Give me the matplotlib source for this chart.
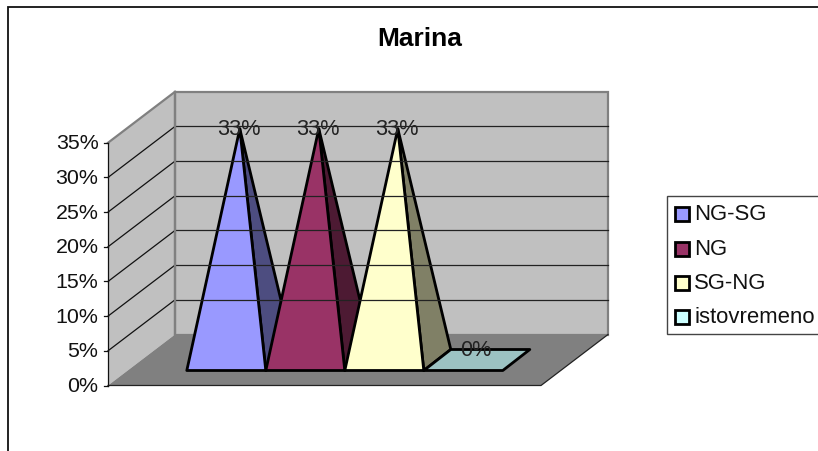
import matplotlib
matplotlib.use("Agg")
import matplotlib.pyplot as plt
from matplotlib.patches import Polygon, Rectangle

plt.rcParams['font.family'] = ['Liberation Sans', 'DejaVu Sans']

title = "Marina"
categories = ["NG-SG", "NG", "SG-NG", "istovremeno"]
values = [33, 33, 33, 0]
y_ticks = [0, 5, 10, 15, 20, 25, 30, 35]
front_colors = ["#9999FF", "#993366", "#FFFFCC", "#CCFFFF"]
side_colors = ["#4D4D80", "#4D1A33", "#808066", "#9CC3C3"]

# oblique box, in pixels
x0, y0 = 108, 385
box_w = 433
px_per_pct = 6.935
dx, dy = 67, -51
# pyramid bases
base_x0 = 186.8
base_w = 79
base_front = 370
base_dx, base_dy = 27, -21
apex_y0 = 357.1
wall = "#C0C0C0"
floor = "#808080"
lw1 = 0.9
lw2 = 2.0


def y_of(v):
    return y0 - v * px_per_pct


fig = plt.figure(figsize=(8.18, 4.52), dpi=100)
ax = fig.add_axes([0, 0, 1, 1])
ax.set_xlim(0, 818)
ax.set_ylim(450.5, -1.5)
ax.axis("off")

# outer chart frame, cut by the right and bottom edges
ax.plot([8, 8, 818], [452, 6, 6], color="#111111", lw=1.3, solid_joinstyle="miter")

top = y_of(y_ticks[-1])

# side wall, back wall, floor
ax.add_patch(Polygon([(x0, y0), (x0, top), (x0 + dx, top + dy), (x0 + dx, y0 + dy)],
                     fc=wall, ec="none"))
ax.add_patch(Polygon([(x0 + dx, y0 + dy), (x0 + dx, top + dy),
                      (x0 + dx + box_w, top + dy), (x0 + dx + box_w, y0 + dy)],
                     fc=wall, ec=floor, lw=1.6))
ax.plot([x0, x0 + dx], [top, top + dy], color=floor, lw=1.6)
ax.add_patch(Polygon([(x0, y0), (x0 + box_w, y0), (x0 + box_w + dx, y0 + dy), (x0 + dx, y0 + dy)],
                     fc=floor, ec="none"))
ax.plot([x0, x0 + box_w, x0 + box_w + dx], [y0, y0, y0 + dy], color="#222222", lw=lw1)

# gridlines and value axis
for t in y_ticks[1:-1]:
    y = y_of(t)
    ax.plot([x0, x0 + dx], [y, y + dy], color="#111111", lw=lw1)
    ax.plot([x0 + dx, x0 + dx + box_w], [y + dy, y + dy], color="#222222", lw=lw1)
for t in y_ticks:
    y = y_of(t)
    ax.plot([x0 - 4, x0], [y, y], color="#111111", lw=lw1)
    ax.text(x0 - 9.5, y, f"{t}%", ha="right", va="center", fontsize=15.4, color="#111111")
ax.plot([x0, x0], [y0, top], color="#111111", lw=lw1)
ax.plot([x0 + dx, x0 + dx], [y0 + dy, top + dy], color=floor, lw=1.6)

# pyramids, left to right so each front face covers the previous side face
for i, v in enumerate(values):
    fl = base_x0 + i * base_w
    fr = fl + base_w
    by = base_front + base_dy
    apex = (fl + base_w / 2 + base_dx / 2, apex_y0 - v * px_per_pct)
    if v > 0:
        ax.add_patch(Polygon([(fr, base_front), (fr + base_dx, by), apex],
                             fc=side_colors[i], ec="black", lw=lw2, joinstyle="round"))
        ax.add_patch(Polygon([(fl, base_front), (fr, base_front), apex],
                             fc=front_colors[i], ec="black", lw=lw2, joinstyle="round"))
        label_y = apex[1]
    else:
        ax.add_patch(Polygon([(fl, base_front), (fr, base_front), (fr + base_dx, by), (fl + base_dx, by)],
                             fc=side_colors[i], ec="black", lw=lw2, joinstyle="round"))
        label_y = by
    ax.text(apex[0] - 1, label_y, f"{v}%", ha="center", va="center", fontsize=15.6, color="#222222")

ax.text(419.5, 37.5, title, ha="center", va="center", fontsize=19, fontweight="bold", color="black")

# legend box runs past the right edge
ax.add_patch(Rectangle((666.7, 195.7), 160, 137.6, fc="white", ec="#444444", lw=1))
leg_y = [213, 248, 282, 316]
for name, c, y in zip(categories, front_colors, leg_y):
    ax.add_patch(Rectangle((675, y - 6.5), 14, 13.5, fc=c, ec="black", lw=lw2))
    ax.text(694, y, name, ha="left", va="center", fontsize=15.9, color="#111111")

fig.savefig("out.png", dpi=100)
